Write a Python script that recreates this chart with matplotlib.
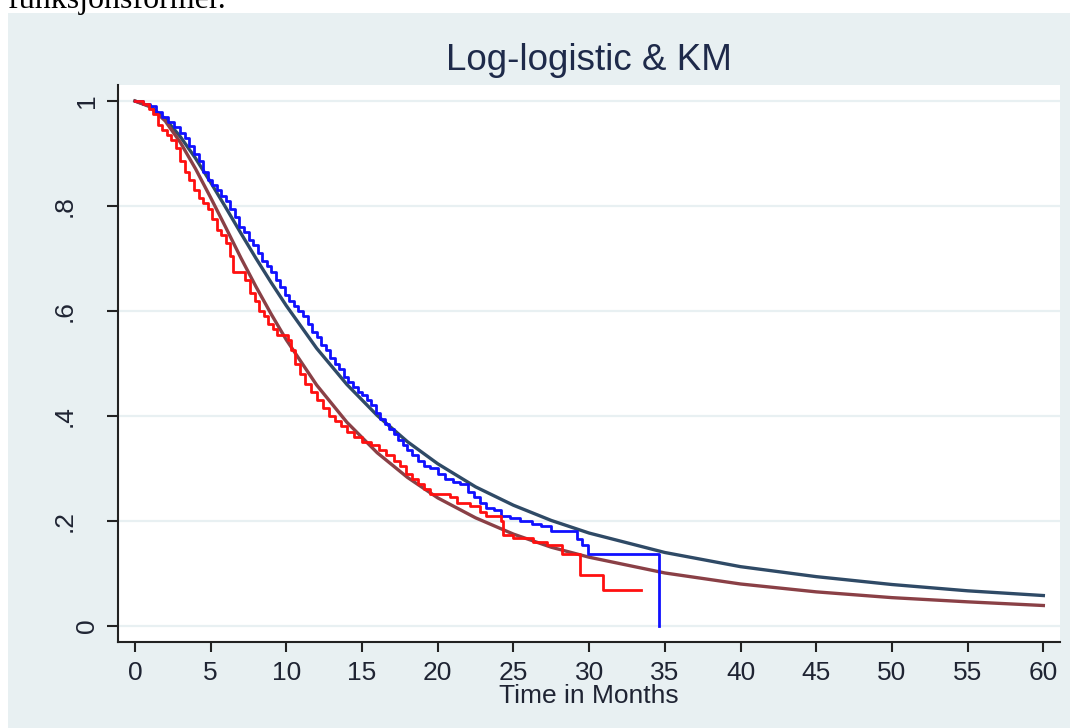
import matplotlib
matplotlib.use("Agg")
import matplotlib.pyplot as plt
from matplotlib.patches import Rectangle

plt.rcParams['font.family'] = ['Liberation Sans', 'DejaVu Sans']

# fitted log-logistic survival curves
fit_t = [0, 1, 2, 3, 4, 5, 6, 7, 8, 9, 10, 12, 14, 16, 18, 20, 22.5, 25, 27.5,
         30, 35, 40, 45, 50, 55, 60]
fit_blue = [1.0, 0.990, 0.966, 0.932, 0.891, 0.845, 0.797, 0.748, 0.700, 0.654,
            0.610, 0.529, 0.460, 0.401, 0.351, 0.309, 0.265, 0.230, 0.201,
            0.177, 0.140, 0.113, 0.094, 0.079, 0.067, 0.058]
fit_red = [1.0, 0.989, 0.962, 0.921, 0.871, 0.816, 0.759, 0.701, 0.646, 0.594,
           0.545, 0.459, 0.388, 0.330, 0.283, 0.244, 0.206, 0.175, 0.150,
           0.131, 0.101, 0.080, 0.065, 0.054, 0.046, 0.039]

# Kaplan-Meier step curves
km_blue_t = [0, 0.5, 1.0, 1.4, 1.8, 2.2, 2.6, 3.0, 3.3, 3.6, 3.9, 4.2, 4.5, 4.8,
             5.1, 5.4, 5.7, 6.0, 6.3, 6.6, 6.9, 7.2, 7.5, 7.8, 8.1, 8.4, 8.7,
             9.0, 9.3, 9.6, 9.9, 10.2, 10.5, 10.8, 11.1, 11.4, 11.7, 12.0, 12.3,
             12.6, 12.9, 13.2, 13.5, 13.8, 14.1, 14.4, 14.7, 15.0, 15.3, 15.6,
             15.9, 16.2, 16.5, 16.8, 17.1, 17.4, 17.7, 18.0, 18.3, 18.7, 19.1,
             19.5, 20.0, 20.5, 21.0, 21.5, 22.0, 22.4, 22.8, 23.2, 23.7, 24.2,
             24.8, 25.4, 26.2, 26.8, 27.5, 29.2, 29.5, 29.9, 34.6, 34.6]
km_blue_s = [1.0, 0.995, 0.99, 0.98, 0.97, 0.96, 0.95, 0.94, 0.93, 0.915, 0.90,
             0.885, 0.865, 0.85, 0.84, 0.83, 0.82, 0.81, 0.795, 0.78, 0.76,
             0.75, 0.735, 0.725, 0.71, 0.695, 0.685, 0.675, 0.66, 0.645, 0.63,
             0.62, 0.61, 0.60, 0.59, 0.575, 0.56, 0.55, 0.535, 0.525, 0.51,
             0.50, 0.49, 0.475, 0.465, 0.455, 0.445, 0.44, 0.43, 0.42, 0.405,
             0.395, 0.385, 0.375, 0.365, 0.355, 0.345, 0.335, 0.325, 0.315,
             0.305, 0.30, 0.29, 0.28, 0.275, 0.27, 0.255, 0.245, 0.235, 0.225,
             0.22, 0.21, 0.205, 0.20, 0.195, 0.19, 0.18, 0.165, 0.155, 0.137,
             0.137, 0.0]

km_red_t = [0, 0.5, 0.9, 1.2, 1.5, 1.8, 2.1, 2.4, 2.7, 3.0, 3.3, 3.6, 3.9, 4.2,
            4.5, 4.8, 5.1, 5.4, 5.7, 6.0, 6.3, 6.5, 7.3, 7.6, 7.9, 8.2, 8.5,
            8.8, 9.1, 9.4, 10.1, 10.3, 10.6, 10.9, 11.2, 11.6, 12.0, 12.4, 12.8,
            13.2, 13.6, 14.0, 14.5, 15.0, 15.6, 16.1, 16.6, 17.1, 17.5, 17.9,
            18.3, 18.7, 19.1, 19.5, 20.8, 21.3, 22.1, 22.8, 23.2, 24.2, 24.3,
            25.0, 26.3, 27.2, 28.2, 29.4, 30.9, 33.4]
km_red_s = [1.0, 0.995, 0.985, 0.975, 0.955, 0.945, 0.935, 0.925, 0.91, 0.885,
            0.865, 0.85, 0.83, 0.815, 0.805, 0.795, 0.775, 0.755, 0.745, 0.73,
            0.705, 0.675, 0.66, 0.635, 0.62, 0.60, 0.59, 0.575, 0.565, 0.555,
            0.545, 0.525, 0.50, 0.48, 0.46, 0.445, 0.43, 0.415, 0.40, 0.39,
            0.38, 0.37, 0.36, 0.35, 0.345, 0.335, 0.325, 0.315, 0.305, 0.29,
            0.28, 0.27, 0.26, 0.252, 0.245, 0.235, 0.228, 0.217, 0.21, 0.20,
            0.173, 0.168, 0.16, 0.155, 0.138, 0.098, 0.068, 0.068]

xticks = [0, 5, 10, 15, 20, 25, 30, 35, 40, 45, 50, 55, 60]
yticks = [0, 0.2, 0.4, 0.6, 0.8, 1.0]
ylabels = ['0', '.2', '.4', '.6', '.8', '1']

bg = '#e8f0f2'
txt = '#1f2433'

fig = plt.figure(figsize=(10.7, 7.28), dpi=100)
fig.patch.set_facecolor('white')
frame = Rectangle((8 / 1070, 0), 1 - 8 / 1070, 1 - 13 / 728,
                  transform=fig.transFigure, facecolor=bg,
                  edgecolor='none', zorder=-5)
fig.add_artist(frame)
# cut-off line of text above the chart (it is cropped in the source too)
fig.text(8 / 1070, 1 - 8 / 728, 'funksjonsformer.', fontsize=23,
         family=['Liberation Serif', 'DejaVu Serif'], va='baseline', ha='left',
         color='black')

ax = fig.add_axes([118 / 1070, 1 - 642 / 728, 942 / 1070, 557 / 728])
ax.set_zorder(1)
ax.set_facecolor('white')

for yv in yticks:
    ax.axhline(yv, color='#e8f0f2', lw=1.6, zorder=1)

ax.plot(km_blue_t, km_blue_s, drawstyle='steps-post', color='#1010ff', lw=2.0, zorder=3)
ax.plot(km_red_t, km_red_s, drawstyle='steps-post', color='#ff1010', lw=2.0, zorder=3)
ax.plot(fit_t, fit_blue, color='#2f4a66', lw=2.4, zorder=2)
ax.plot(fit_t, fit_red, color='#8a4046', lw=2.4, zorder=2)

ax.set_xlim(-1.12, 61.1)
ax.set_ylim(-0.0305, 1.0305)

for s in ['top', 'right']:
    ax.spines[s].set_visible(False)
for s in ['left', 'bottom']:
    ax.spines[s].set_linewidth(1.5)
    ax.spines[s].set_color('#222222')

ax.set_xticks(xticks)
ax.set_xticklabels([str(v) for v in xticks], fontsize=19, color=txt)
ax.tick_params(axis='x', length=7.5, width=1.5, pad=6, color='#222222')
ax.set_yticks(yticks)
ax.set_yticklabels([])
ax.tick_params(axis='y', length=8, width=1.5, color='#222222')

# rotated y labels, "0" and "1" sit closer to the axis than the others
ytr = ax.get_yaxis_transform()
for yv, lab in zip(yticks, ylabels):
    xpos = -0.0324 if lab in ('0', '1') else -0.0563
    ax.text(xpos, yv, lab, transform=ytr, rotation=90, ha='center',
            va='center', fontsize=19, color=txt, clip_on=False)

ax.set_xlabel('Time in Months', fontsize=19, color=txt, va='top')
ax.xaxis.set_label_coords(0.5, -0.076)

fig.text(589 / 1070, 1 - 60 / 728, 'Log-logistic & KM', fontsize=26.5,
         color='#1e2a4a', ha='center', va='center')

fig.savefig('out.png', dpi=100, facecolor=fig.get_facecolor())
